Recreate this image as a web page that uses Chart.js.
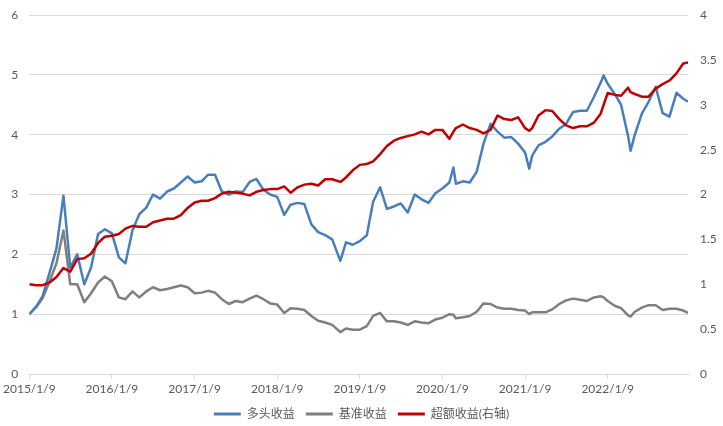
<!DOCTYPE html>
<html>
<head>
<meta charset="utf-8">
<script src="https://cdn.jsdelivr.net/npm/chart.js@4.4.1/dist/chart.umd.min.js"></script>
<style>
  html, body { margin: 0; padding: 0; background: #ffffff; }
  #wrap { width: 723px; height: 426px; }
</style>
</head>
<body>
<div id="wrap"><canvas id="chart" width="723" height="426"></canvas></div>
<script>
// observation dates (roughly monthly, plus a few turning points)
const dates = [
  '2015/1/9','2015/2/9','2015/3/9','2015/4/9','2015/5/9','2015/6/9','2015/7/9','2015/8/9','2015/9/9','2015/10/9','2015/11/9','2015/12/9',
  '2016/1/9','2016/2/9','2016/3/9','2016/4/9','2016/5/9','2016/6/9','2016/7/9','2016/8/9','2016/9/9','2016/10/9','2016/11/9','2016/12/9',
  '2017/1/9','2017/2/9','2017/3/9','2017/4/9','2017/5/9','2017/6/9','2017/7/9','2017/8/9','2017/9/9','2017/10/9','2017/11/9','2017/12/9',
  '2018/1/9','2018/2/9','2018/3/9','2018/4/9','2018/5/9','2018/6/9','2018/7/9','2018/8/9','2018/9/9','2018/10/15','2018/11/9','2018/12/9',
  '2019/1/9','2019/2/9','2019/3/9','2019/4/9','2019/5/9','2019/6/9','2019/7/9','2019/8/9','2019/9/9','2019/10/9','2019/11/9','2019/12/9',
  '2020/1/9','2020/2/9','2020/2/27','2020/3/9','2020/4/9','2020/5/9','2020/6/9','2020/7/9','2020/8/9','2020/9/9','2020/10/9','2020/11/9','2020/12/9',
  '2021/1/9','2021/1/27','2021/2/9','2021/3/9','2021/4/9','2021/5/9','2021/6/9','2021/7/9','2021/8/9','2021/9/9','2021/10/9','2021/11/9','2021/12/9','2021/12/22',
  '2022/1/9','2022/2/9','2022/3/9','2022/4/9','2022/4/20','2022/5/9','2022/6/9','2022/7/9','2022/8/9','2022/9/9','2022/10/9','2022/11/9','2022/12/9','2022/12/30'
];

// 多头收益 (left axis)
const longReturn = [
  1.00,1.13,1.30,1.70,2.10,2.98,1.78,2.00,1.50,1.78,2.34,2.42,
  2.35,1.95,1.85,2.40,2.67,2.78,3.00,2.93,3.05,3.10,3.20,3.30,
  3.20,3.22,3.33,3.33,3.05,3.00,3.05,3.04,3.21,3.26,3.08,3.00,
  2.96,2.66,2.83,2.86,2.84,2.50,2.37,2.32,2.25,1.89,2.20,2.16,
  2.22,2.32,2.88,3.12,2.76,2.80,2.85,2.70,3.00,2.92,2.86,3.02,
  3.10,3.20,3.45,3.18,3.22,3.20,3.38,3.85,4.18,4.05,3.95,3.96,3.85,
  3.70,3.43,3.65,3.82,3.88,3.97,4.10,4.18,4.38,4.40,4.40,4.63,4.87,4.99,
  4.85,4.68,4.50,3.98,3.73,4.00,4.35,4.55,4.80,4.36,4.30,4.70,4.60,4.55
];

// 基准收益 (left axis)
const benchReturn = [
  1.00,1.12,1.27,1.55,1.85,2.40,1.50,1.50,1.20,1.35,1.53,1.63,
  1.55,1.28,1.25,1.38,1.28,1.38,1.45,1.40,1.42,1.45,1.48,1.45,
  1.35,1.36,1.39,1.36,1.25,1.17,1.22,1.20,1.26,1.31,1.25,1.18,
  1.16,1.02,1.10,1.09,1.07,0.97,0.89,0.86,0.82,0.70,0.76,0.74,
  0.74,0.80,0.97,1.02,0.88,0.88,0.86,0.82,0.88,0.86,0.85,0.91,
  0.94,1.00,0.99,0.93,0.95,0.97,1.04,1.18,1.17,1.11,1.09,1.09,1.07,
  1.06,1.00,1.03,1.03,1.03,1.08,1.17,1.23,1.26,1.24,1.22,1.28,1.30,1.28,
  1.22,1.14,1.10,0.98,0.96,1.04,1.11,1.15,1.15,1.07,1.09,1.09,1.06,1.02
];

// 超额收益 (right axis)
const excessReturn = [
  1.00,0.99,0.99,1.02,1.08,1.18,1.14,1.28,1.29,1.34,1.46,1.53,
  1.54,1.56,1.62,1.65,1.64,1.64,1.69,1.71,1.73,1.73,1.77,1.85,
  1.91,1.93,1.93,1.96,2.01,2.03,2.02,2.01,1.99,2.03,2.05,2.06,
  2.06,2.09,2.02,2.08,2.11,2.12,2.10,2.17,2.17,2.14,2.19,2.27,
  2.33,2.34,2.37,2.45,2.54,2.60,2.63,2.65,2.67,2.70,2.67,2.72,
  2.72,2.62,2.70,2.74,2.78,2.74,2.72,2.68,2.72,2.88,2.84,2.83,2.86,
  2.74,2.71,2.74,2.88,2.94,2.93,2.84,2.77,2.74,2.76,2.76,2.80,2.90,3.00,
  3.13,3.11,3.10,3.19,3.14,3.12,3.09,3.09,3.18,3.23,3.27,3.35,3.46,3.47
];

const xTickLabels = ['2015/1/9','2016/1/9','2017/1/9','2018/1/9','2019/1/9','2020/1/9','2021/1/9','2022/1/9'];

// days since first date, used as linear x value
function dayOf(s) {
  const [y, m, d] = s.split('/').map(Number);
  return (Date.UTC(y, m - 1, d) - Date.UTC(2015, 0, 9)) / 86400000;
}

const xs = dates.map(dayOf);
const toPoints = vals => vals.map((v, i) => ({ x: xs[i], y: v }));
const tickDays = xTickLabels.map(dayOf);

const font = { family: 'Lato, "Noto Sans CJK SC", sans-serif', size: 12 };
const textColor = '#595959';
const gridColor = '#d9d9d9';

const ctx = document.getElementById('chart').getContext('2d');
new Chart(ctx, {
  type: 'line',
  data: {
    datasets: [
      { label: '多头收益', data: toPoints(longReturn), yAxisID: 'y', borderColor: '#4a7ebb', order: 2 },
      { label: '基准收益', data: toPoints(benchReturn), yAxisID: 'y', borderColor: '#7f7f7f', order: 3 },
      { label: '超额收益(右轴)', data: toPoints(excessReturn), yAxisID: 'y1', borderColor: '#c00000', order: 1 }
    ]
  },
  options: {
    responsive: false,
    animation: false,
    layout: { padding: { top: 15, left: 0, right: 0, bottom: -4 } },
    elements: {
      line: { borderWidth: 2.5, tension: 0, borderJoinStyle: 'round', fill: false },
      point: { radius: 0 }
    },
    plugins: {
      legend: {
        position: 'bottom',
        labels: {
          usePointStyle: true,
          pointStyle: 'line',
          pointStyleWidth: 27,
          boxHeight: 3,
          padding: 11,
          color: textColor,
          font: font,
          sort: (a, b) => a.datasetIndex - b.datasetIndex,
          generateLabels: chart => chart.data.datasets.map((ds, i) => ({
            text: ds.label,
            datasetIndex: i,
            strokeStyle: ds.borderColor,
            fillStyle: ds.borderColor,
            lineWidth: 3,
            pointStyle: 'line',
            fontColor: textColor,
            hidden: false
          }))
        }
      },
      tooltip: { enabled: false }
    },
    scales: {
      x: {
        type: 'linear',
        min: 0,
        max: dayOf('2022/12/30'),
        afterBuildTicks: scale => { scale.ticks = tickDays.map(v => ({ value: v })); },
        afterFit: scale => { scale.height = 23; },
        ticks: {
          autoSkip: false,
          maxRotation: 0,
          color: textColor,
          font: font,
          padding: 3,
          callback: value => xTickLabels[tickDays.indexOf(value)] || ''
        },
        grid: { drawOnChartArea: false, drawTicks: true, tickLength: 5, color: gridColor },
        border: { display: true, color: gridColor, width: 1 }
      },
      y: {
        position: 'left',
        min: 0,
        max: 6,
        afterFit: scale => { scale.width = 29; scale.paddingTop = 0; },
        ticks: { stepSize: 1, color: textColor, font: font, padding: 11 },
        grid: { color: gridColor, drawTicks: false },
        border: { display: false }
      },
      y1: {
        position: 'right',
        min: 0,
        max: 4,
        afterFit: scale => { scale.width = 35; scale.paddingTop = 0; },
        ticks: { stepSize: 0.5, color: textColor, font: font, padding: 12, callback: v => String(v) },
        grid: { drawOnChartArea: false, drawTicks: false },
        border: { display: false }
      }
    }
  }
});
</script>
</body>
</html>
